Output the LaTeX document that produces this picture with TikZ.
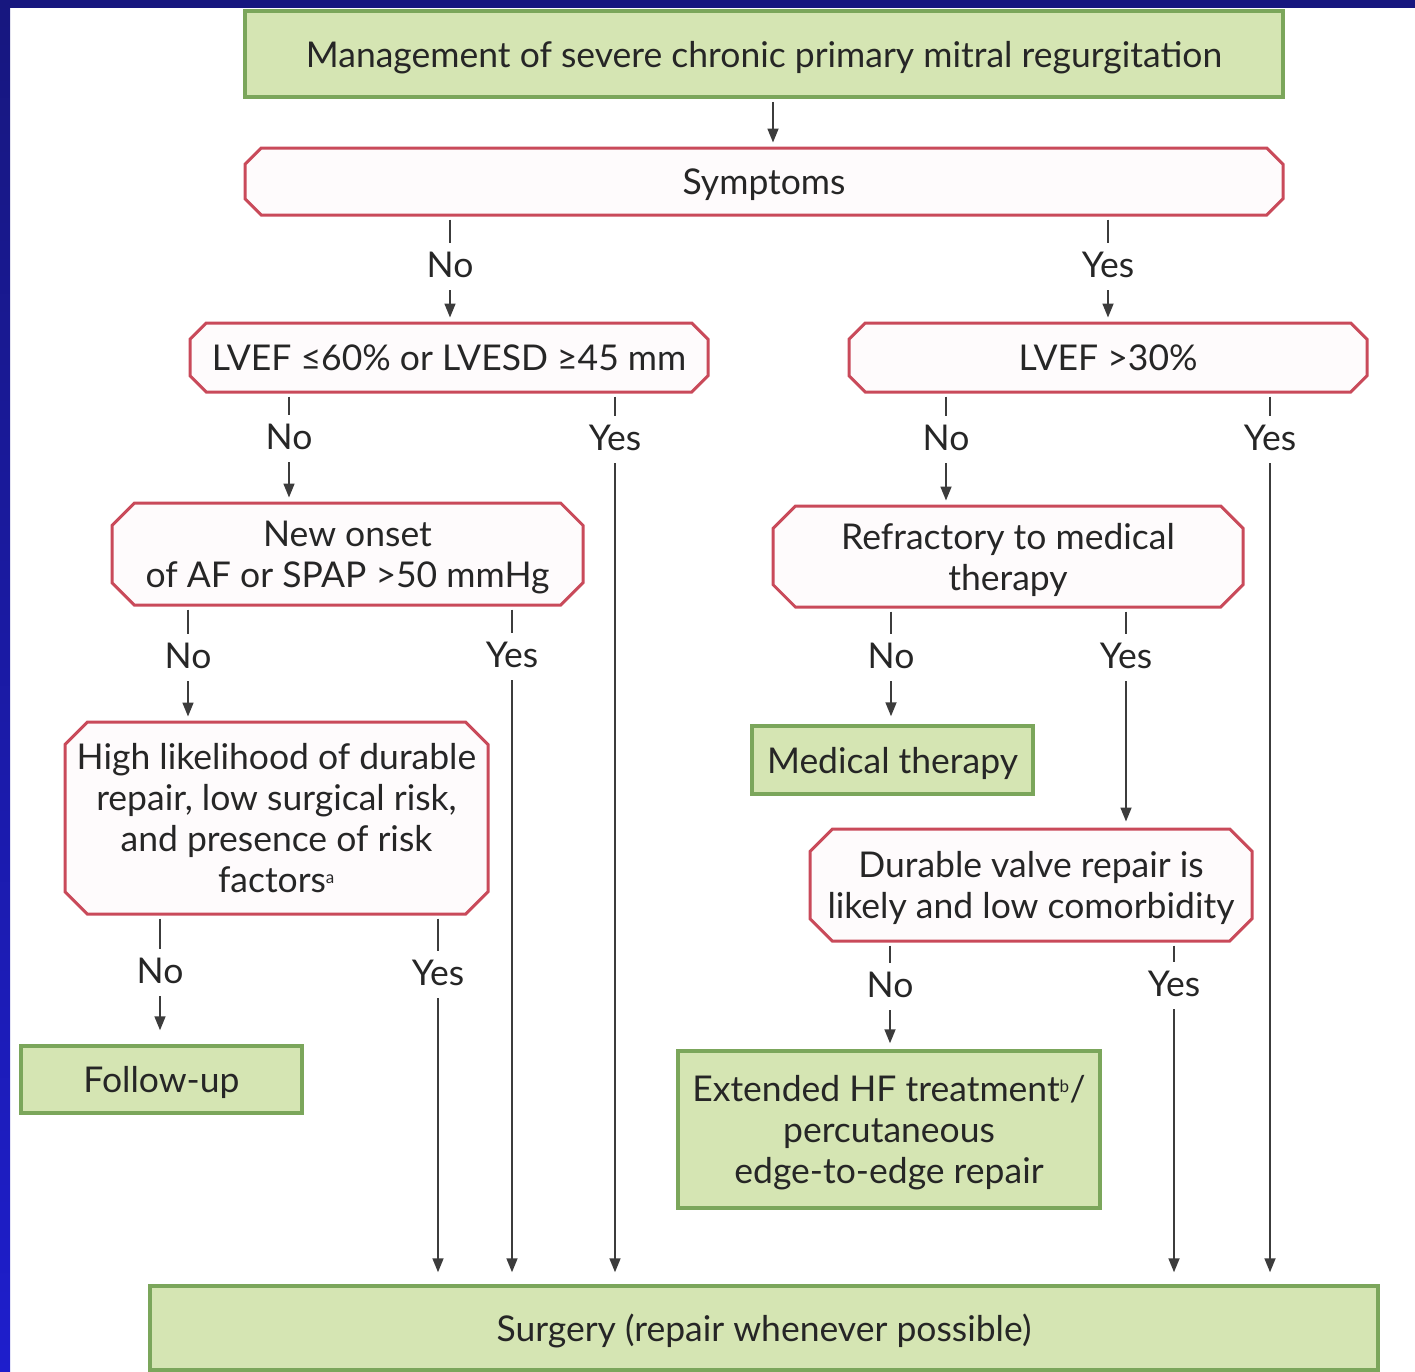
\documentclass[tikz,border=0pt]{standalone}
\usepackage{fontspec}
\setmainfont{Lato}
\usetikzlibrary{shapes,arrows.meta}
\definecolor{rd}{HTML}{C94A5A}
\definecolor{gfill}{HTML}{D5E5B3}
\definecolor{gline}{HTML}{7BA65B}
\definecolor{ink}{HTML}{262626}
\definecolor{navy}{HTML}{17177F}
\definecolor{royal}{HTML}{1E1ECC}
\newcommand{\fnm}[1]{\textsuperscript{\fontsize{17}{17}\selectfont #1}}
\tikzstyle{oct}=[chamfered rectangle,chamfered rectangle xsep=19pt,draw=rd,line width=3pt,fill=white!98!rd,inner sep=0pt,text depth=0pt,align=center,text=ink]
\tikzstyle{grn}=[rectangle,draw=gline,line width=3.5pt,fill=gfill,inner sep=0pt,text depth=0pt,align=center,text=ink]
\tikzstyle{lbl}=[inner sep=0pt,minimum height=44pt,text=ink]
\tikzstyle{cn}=[draw=ink!90,line width=1.7pt,shorten <=3pt]
\tikzstyle{ar}=[cn,-{Triangle[length=14pt,width=11pt]},shorten >=4pt]

\begin{document}
\begin{tikzpicture}[x=1pt,y=-1pt,font=\fontsize{35.5}{41}\selectfont]
\useasboundingbox (0,0) rectangle (1415,1371);
\shade[top color=navy,bottom color=royal] (0,0) rectangle (10,1371);
\fill[navy] (0,0) rectangle (1415,8);

% boxes
\node[grn,minimum width=1038pt,minimum height=86pt] (title) at (764,54) {Management of severe chronic primary mitral regurgitation};
\node[oct,minimum width=1038pt,minimum height=67pt] (sym) at (764,181.5) {Symptoms};
\node[oct,minimum width=518pt,minimum height=69pt] (lvA) at (449,357.5) {LVEF ≤60\% or LVESD ≥45 mm};
\node[oct,minimum width=518pt,minimum height=69pt] (lvB) at (1108,357.5) {LVEF >30\%};
\node[oct,minimum width=471pt,minimum height=102pt] (af) at (347.5,554) {New onset\\of AF or SPAP >50 mmHg};
\node[oct,minimum width=470pt,minimum height=101pt] (refr) at (1008,556.5) {Refractory to medical\\therapy};
\node[oct,inner xsep=-8pt,minimum width=423pt,minimum height=192pt] (risk) at (276.5,818) {High likelihood of durable\\repair, low surgical risk,\\and presence of risk\\factors\fnm{a}};
\node[grn,minimum width=281pt,minimum height=68pt] (med) at (892.5,760) {Medical therapy};
\node[oct,inner xsep=-2pt,minimum width=442pt,minimum height=112pt] (dur) at (1031,885) {Durable valve repair is\\likely and low comorbidity};
\node[grn,minimum width=281pt,minimum height=67pt] (fol) at (161.5,1079.5) {Follow-up};
\node[grn,minimum width=422pt,minimum height=157pt] (ext) at (889,1129.5) {Extended HF treatment\fnm{b}/\\percutaneous\\edge-to-edge repair};
\node[grn,minimum width=1228pt,minimum height=84pt] (surg) at (764,1328) {Surgery (repair whenever possible)};

% answers
\node[lbl] (symN) at (450,265) {No};
\node[lbl] (symY) at (1108,265) {Yes};
\node[lbl] (lvAN) at (289,437) {No};
\node[lbl] (lvAY) at (615,438) {Yes};
\node[lbl] (lvBN) at (946,438) {No};
\node[lbl] (lvBY) at (1270,438) {Yes};
\node[lbl] (afN) at (188,656) {No};
\node[lbl] (afY) at (512,655) {Yes};
\node[lbl] (refN) at (891,656) {No};
\node[lbl] (refY) at (1126,656) {Yes};
\node[lbl] (riskN) at (160,971) {No};
\node[lbl] (riskY) at (438,973) {Yes};
\node[lbl] (durN) at (890,985) {No};
\node[lbl] (durY) at (1174,984) {Yes};

% connectors
\draw[ar] ([xshift=9pt]title.south) -- ([xshift=9pt]sym.north);
\draw[cn] (symN |- sym.south) -- (symN);
\draw[ar] (symN) -- (symN |- lvA.north);
\draw[cn] (symY |- sym.south) -- (symY);
\draw[ar] (symY) -- (symY |- lvB.north);
\draw[cn] (lvAN |- lvA.south) -- (lvAN);
\draw[ar] (lvAN) -- (lvAN |- af.north);
\draw[cn] (lvAY |- lvA.south) -- (lvAY);
\draw[ar,shorten >=12pt] (lvAY) -- (lvAY |- surg.north);
\draw[cn] (lvBN |- lvB.south) -- (lvBN);
\draw[ar] (lvBN) -- (lvBN |- refr.north);
\draw[cn] (lvBY |- lvB.south) -- (lvBY);
\draw[ar,shorten >=12pt] (lvBY) -- (lvBY |- surg.north);
\draw[cn] (afN |- af.south) -- (afN);
\draw[ar] (afN) -- (afN |- risk.north);
\draw[cn] (afY |- af.south) -- (afY);
\draw[ar,shorten >=12pt] (afY) -- (afY |- surg.north);
\draw[cn] (refN |- refr.south) -- (refN);
\draw[ar,shorten >=8pt] (refN) -- (refN |- med.north);
\draw[cn] (refY |- refr.south) -- (refY);
\draw[ar,shorten >=6pt] (refY) -- (refY |- dur.north);
\draw[cn] (riskN |- risk.south) -- (riskN);
\draw[ar,shorten >=14pt] (riskN) -- (riskN |- fol.north);
\draw[cn] (riskY |- risk.south) -- (riskY);
\draw[ar,shorten >=12pt] (riskY) -- (riskY |- surg.north);
\draw[cn] (durN |- dur.south) -- (durN);
\draw[ar,shorten >=6pt] (durN) -- (durN |- ext.north);
\draw[cn] (durY |- dur.south) -- (durY);
\draw[ar,shorten >=12pt] (durY) -- (durY |- surg.north);
\end{tikzpicture}
\end{document}
